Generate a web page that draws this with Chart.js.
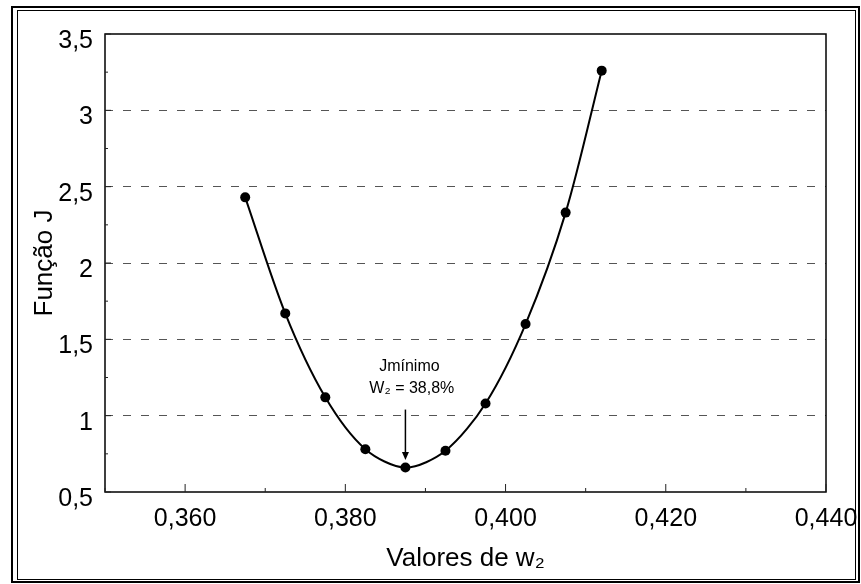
<!DOCTYPE html>
<html>
<head>
<meta charset="utf-8">
<script src="https://cdn.jsdelivr.net/npm/chart.js@4"></script>
<style>
    html, body { margin: 0; padding: 0; background: #fff; }
    #wrap { width: 861px; height: 584px; }
</style>
</head>
<body>
<div id="wrap"><canvas id="jChart" width="861" height="584"></canvas></div>
<script>
// values
const w2Values = [0.3675, 0.3725, 0.3775, 0.3825, 0.3875, 0.3925, 0.3975, 0.4025, 0.4075, 0.412];
const jValues = [2.43, 1.67, 1.12, 0.78, 0.66, 0.77, 1.08, 1.60, 2.33, 3.26];

const xLabelTicks = [0.36, 0.38, 0.40, 0.42, 0.44];
const yLabelTicks = [0.5, 1, 1.5, 2, 2.5, 3, 3.5];

// the minimum marker
const minW2 = 0.3875;
const noteLines = ['Jmínimo', 'W₂ = 38,8%'];

const fontFamily = "'Liberation Sans', Arial, sans-serif";

function isLabelTick(list, value) {
    return list.some(v => Math.abs(v - value) < 1e-6);
}

// frame, inner tick marks, plot border and the arrow note
const decorations = {
    id: 'decorations',
    afterDraw(chart) {
        const ctx = chart.ctx;
        const area = chart.chartArea;
        const x = chart.scales.x;
        const y = chart.scales.y;
        ctx.save();

        // outer double frame
        ctx.strokeStyle = '#000';
        ctx.lineWidth = 2;
        ctx.strokeRect(12, 7, 847, 575);
        ctx.lineWidth = 1;
        ctx.strokeRect(17.5, 10.5, 838, 569);

        // plot border
        ctx.lineWidth = 1.5;
        ctx.strokeRect(area.left, area.top, area.right - area.left, area.bottom - area.top);

        // small inward ticks
        ctx.lineWidth = 1;
        ctx.strokeStyle = '#222';
        x.ticks.forEach(t => {
            const px = x.getPixelForValue(t.value);
            const len = isLabelTick(xLabelTicks, t.value) ? 8 : 4;
            ctx.beginPath();
            ctx.moveTo(px, area.bottom);
            ctx.lineTo(px, area.bottom - len);
            ctx.stroke();
        });
        y.ticks.forEach(t => {
            const py = y.getPixelForValue(t.value);
            const len = isLabelTick(yLabelTicks, t.value) ? 6 : 3;
            ctx.beginPath();
            ctx.moveTo(area.left, py);
            ctx.lineTo(area.left + len, py);
            ctx.stroke();
        });

        // arrow to the minimum
        const ax = x.getPixelForValue(minW2);
        const aTop = y.getPixelForValue(1.04);
        const aBot = y.getPixelForValue(0.71);
        ctx.strokeStyle = '#000';
        ctx.lineWidth = 1.5;
        ctx.beginPath();
        ctx.moveTo(ax, aTop);
        ctx.lineTo(ax, aBot - 6);
        ctx.stroke();
        ctx.fillStyle = '#000';
        ctx.beginPath();
        ctx.moveTo(ax - 3.5, aBot - 8);
        ctx.lineTo(ax + 3.5, aBot - 8);
        ctx.lineTo(ax, aBot);
        ctx.closePath();
        ctx.fill();

        // note text
        ctx.textAlign = 'center';
        ctx.textBaseline = 'middle';
        ctx.font = "16px " + fontFamily;
        ctx.fillText(noteLines[0], x.getPixelForValue(0.388), y.getPixelForValue(1.32));
        ctx.font = "16px " + fontFamily;
        ctx.fillText(noteLines[1], x.getPixelForValue(0.3883), y.getPixelForValue(1.175));

        ctx.restore();
    }
};

new Chart(document.getElementById('jChart'), {
    type: 'line',
    data: {
        datasets: [{
            label: 'Função J',
            data: w2Values.map((w, i) => ({ x: w, y: jValues[i] })),
            borderColor: '#000',
            backgroundColor: '#000',
            borderWidth: 2,
            pointRadius: 5,
            pointBackgroundColor: '#000',
            pointBorderWidth: 0,
            tension: 0.3,
            fill: false
        }]
    },
    options: {
        responsive: false,
        animation: false,
        layout: {
            padding: { left: 0, top: 34, right: 35, bottom: 0 }
        },
        plugins: {
            legend: { display: false },
            tooltip: { enabled: false }
        },
        scales: {
            x: {
                type: 'linear',
                min: 0.35,
                max: 0.44,
                afterFit: function(scale) {
                    scale.height = 92;
                    scale.paddingLeft = 0;
                    scale.paddingRight = 0;
                },
                ticks: {
                    stepSize: 0.01,
                    autoSkip: false,
                    maxRotation: 0,
                    padding: 12,
                    color: '#000',
                    font: { family: fontFamily, size: 25 },
                    callback: function(value) {
                        return isLabelTick(xLabelTicks, value) ? value.toFixed(3).replace('.', ',') : '';
                    }
                },
                grid: { display: false, drawTicks: false },
                border: { display: false },
                title: {
                    display: true,
                    text: 'Valores de w₂',
                    color: '#000',
                    font: { family: fontFamily, size: 26 },
                    padding: { top: 0, bottom: 10 }
                }
            },
            y: {
                type: 'linear',
                min: 0.5,
                max: 3.5,
                afterFit: function(scale) {
                    scale.width = 105;
                    scale.paddingTop = 0;
                    scale.paddingBottom = 0;
                },
                ticks: {
                    stepSize: 0.25,
                    autoSkip: false,
                    padding: 12,
                    labelOffset: 7,
                    color: '#000',
                    font: { family: fontFamily, size: 25 },
                    callback: function(value) {
                        return isLabelTick(yLabelTicks, value) ? String(Math.round(value * 10) / 10).replace('.', ',') : '';
                    }
                },
                grid: {
                    drawTicks: false,
                    color: function(ctx) {
                        const v = ctx.tick ? ctx.tick.value : 0;
                        if (v <= 0.5 || v >= 3.5) return 'rgba(0,0,0,0)';
                        return isLabelTick(yLabelTicks, v) ? '#555' : 'rgba(0,0,0,0)';
                    },
                    lineWidth: 1
                },
                border: { display: false, dash: [8, 10] },
                title: {
                    display: true,
                    text: 'Função J',
                    color: '#000',
                    font: { family: fontFamily, size: 26 },
                    padding: { top: 29, bottom: 0 }
                }
            }
        }
    },
    plugins: [decorations]
});
</script>
</body>
</html>
